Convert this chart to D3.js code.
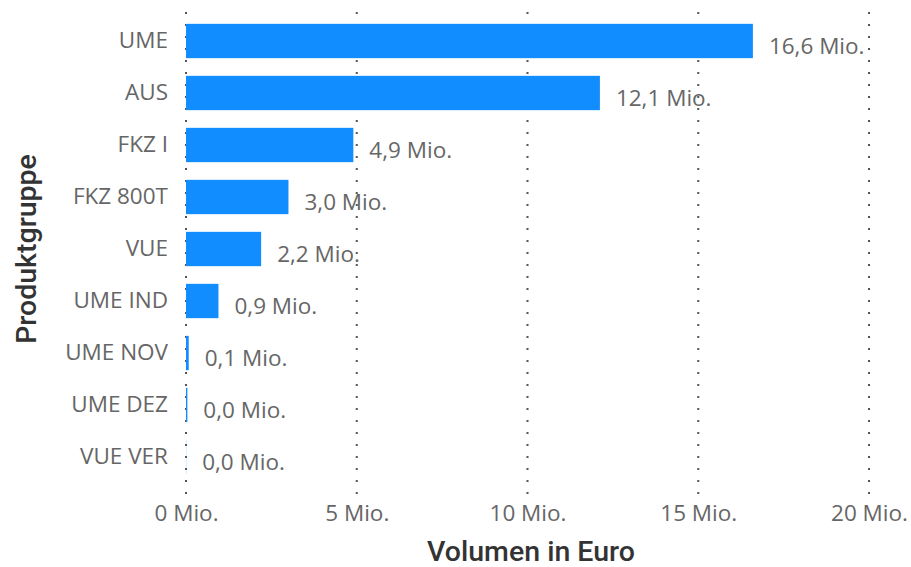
<!DOCTYPE html>
<html>
<head>
<meta charset="utf-8">
<script src="https://cdn.jsdelivr.net/npm/d3@7"></script>
<style>
  body { margin: 0; background: #fff; }
  svg text { font-family: "Open Sans", "Segoe UI", sans-serif; }
</style>
</head>
<body>
<svg id="chart" width="911" height="567"></svg>
<script>
// Produktgruppen und Volumen (in Mio. Euro)
var categories = ['UME', 'AUS', 'FKZ I', 'FKZ 800T', 'VUE', 'UME IND', 'UME NOV', 'UME DEZ', 'VUE VER'];
var values = [16.6, 12.12, 4.9, 3.0, 2.2, 0.95, 0.08, 0.04, 0.004];
var x_ticks = [0, 5, 10, 15, 20];

var label_size = 22.5;

var svg = d3.select('#chart');
var margin = { left: 186, right: 42, top: 15, bottom: 84 };
var width = 911 - margin.left - margin.right;
var height = 567 - margin.top - margin.bottom;

var g = svg.append('g').attr('transform', 'translate(' + margin.left + ',' + margin.top + ')');

var x = d3.scaleLinear().domain([0, 20]).range([0, width]);
var y = d3.scaleBand().domain(categories).range([0, height]).paddingInner(0.34).paddingOuter(0.17);

// gridlines
g.selectAll('line.grid')
  .data(x_ticks)
  .enter()
  .append('line')
  .attr('class', 'grid')
  .attr('x1', function(d) { return x(d); })
  .attr('x2', function(d) { return x(d); })
  .attr('y1', -3)
  .attr('y2', height + 12)
  .attr('stroke', '#555')
  .attr('stroke-width', 2)
  .attr('stroke-dasharray', '2,10');

// bars
var rows = categories.map(function(c, i) { return { key: c, value: values[i] }; });

g.selectAll('rect.bar')
  .data(rows)
  .enter()
  .append('rect')
  .attr('class', 'bar')
  .attr('x', 0)
  .attr('y', function(d) { return y(d.key); })
  .attr('width', function(d) { return x(d.value); })
  .attr('height', y.bandwidth())
  .attr('fill', '#118DFF');

// data labels
g.selectAll('text.value')
  .data(rows)
  .enter()
  .append('text')
  .attr('class', 'value')
  .attr('x', function(d) { return x(d.value) + 16; })
  .attr('y', function(d) { return y(d.key) + y.bandwidth() / 2 + 5; })
  .attr('dy', '0.35em')
  .attr('font-size', label_size)
  .attr('fill', '#666')
  .text(function(d) { return d.value.toFixed(1).replace('.', ',') + ' Mio.'; });

// y axis labels
var yAxis = d3.axisLeft(y).tickSize(0).tickPadding(18);
var yg = g.append('g').call(yAxis);
yg.select('.domain').remove();
yg.selectAll('text').attr('font-size', label_size).attr('fill', '#666')
  .attr('font-family', '"Open Sans", sans-serif');

// x axis labels
var xAxis = d3.axisBottom(x).tickValues(x_ticks).tickSize(0).tickPadding(22)
  .tickFormat(function(d) { return d + ' Mio.'; });
var xg = g.append('g').attr('transform', 'translate(0,' + height + ')').call(xAxis);
xg.select('.domain').remove();
xg.selectAll('text').attr('font-size', label_size).attr('fill', '#666')
  .attr('font-family', '"Open Sans", sans-serif');

// axis titles
svg.append('text')
  .attr('x', 531)
  .attr('y', 561)
  .attr('text-anchor', 'middle')
  .attr('font-size', 28.5)
  .attr('font-weight', 500)
  .attr('fill', '#333')
  .style('font-family', 'Roboto, sans-serif')
  .text('Volumen in Euro');

svg.append('text')
  .attr('transform', 'translate(36,' + 249 + ') rotate(-90)')
  .attr('text-anchor', 'middle')
  .attr('font-size', 28.5)
  .attr('font-weight', 500)
  .attr('fill', '#333')
  .style('font-family', 'Roboto, sans-serif')
  .text('Produktgruppe');
</script>
</body>
</html>
